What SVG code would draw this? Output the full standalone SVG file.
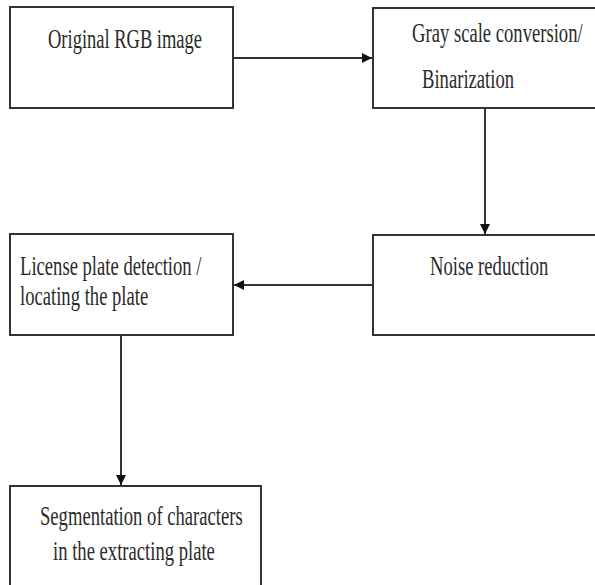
<svg xmlns="http://www.w3.org/2000/svg" width="595" height="585" viewBox="0 0 595 585">
<style>
.box{fill:#fff;stroke:#333;stroke-width:2}
.t{font-family:"Liberation Serif","Times New Roman",serif;font-size:27px;fill:#2a2a2a}
.c{stroke:#333;stroke-width:2;fill:none}
</style>
<defs>
<marker id="ah" viewBox="0 0 10 10" refX="10" refY="5" markerWidth="10" markerHeight="10" markerUnits="userSpaceOnUse" orient="auto">
<path d="M0,0 L10,5 L0,10 Z" fill="#111"/>
</marker>
</defs>
<rect width="595" height="585" fill="#fff"/>
<g id="n1">
<rect class="box" x="10" y="7" width="223" height="101"/>
<text class="t" transform="translate(48,48) scale(0.685,1)">Original RGB image</text>
</g>
<g id="n2">
<rect class="box" x="373" y="8" width="230" height="100"/>
<text class="t" transform="translate(412,42) scale(0.69,1)">Gray scale conversion/</text>
<text class="t" transform="translate(422,88) scale(0.69,1)">Binarization</text>
</g>
<g id="n3">
<rect class="box" x="373" y="235" width="230" height="100"/>
<text class="t" transform="translate(430,275) scale(0.69,1)">Noise reduction</text>
</g>
<g id="n4">
<rect class="box" x="10" y="234" width="223" height="101"/>
<text class="t" transform="translate(20,275) scale(0.69,1)">License plate detection /</text>
<text class="t" transform="translate(20,305) scale(0.69,1)">locating the plate</text>
</g>
<g id="n5">
<rect class="box" x="10" y="486" width="251" height="110"/>
<text class="t" transform="translate(40,525) scale(0.69,1)">Segmentation of characters</text>
<text class="t" transform="translate(53,560) scale(0.69,1)">in the extracting plate</text>
</g>
<g id="connectors">
<line class="c" x1="233" y1="58" x2="372" y2="58" marker-end="url(#ah)"/>
<line class="c" x1="485" y1="108" x2="485" y2="234" marker-end="url(#ah)"/>
<line class="c" x1="373" y1="285" x2="234" y2="285" marker-end="url(#ah)"/>
<line class="c" x1="121" y1="335" x2="121" y2="485" marker-end="url(#ah)"/>
</g>
</svg>
